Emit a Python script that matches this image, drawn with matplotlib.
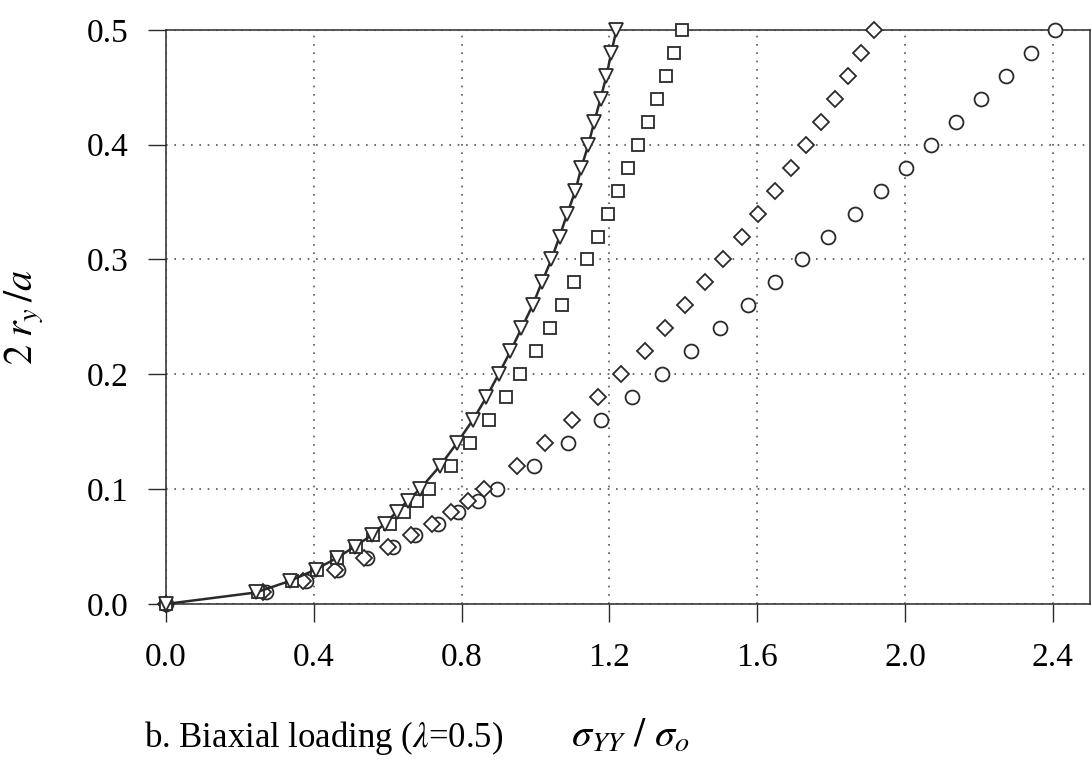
import numpy as np
import matplotlib
matplotlib.use("Agg")
from matplotlib import pyplot as plt

plt.rcParams['font.family'] = ['Liberation Serif', 'DejaVu Serif']
plt.rcParams['mathtext.fontset'] = 'stix'

# plastic zone size 2 r_y / a (same levels for every curve)
ry = [0.0, 0.01, 0.02, 0.03, 0.04, 0.05, 0.06, 0.07, 0.08, 0.09, 0.10,
      0.12, 0.14, 0.16, 0.18, 0.20, 0.22, 0.24, 0.26, 0.28, 0.30,
      0.32, 0.34, 0.36, 0.38, 0.40, 0.42, 0.44, 0.46, 0.48, 0.50]

# applied stress sigma_YY / sigma_o for each model
s_tri = [0.0, 0.243, 0.335, 0.405, 0.462, 0.511, 0.557, 0.592, 0.624, 0.654, 0.687,
         0.741, 0.787, 0.830, 0.867, 0.900, 0.932, 0.962, 0.992, 1.017, 1.043,
         1.065, 1.086, 1.108, 1.124, 1.143, 1.159, 1.176, 1.192, 1.205, 1.219]
s_sq = [0.0, 0.248, 0.340, 0.410, 0.463, 0.514, 0.560, 0.605, 0.643, 0.678, 0.711,
        0.770, 0.822, 0.873, 0.919, 0.959, 1.000, 1.038, 1.073, 1.105, 1.138,
        1.168, 1.197, 1.224, 1.251, 1.278, 1.305, 1.330, 1.354, 1.376, 1.397]
s_dia = [0.0, 0.262, 0.370, 0.458, 0.535, 0.602, 0.662, 0.720, 0.772, 0.818, 0.860,
         0.949, 1.027, 1.100, 1.170, 1.232, 1.295, 1.351, 1.405, 1.459, 1.508,
         1.559, 1.603, 1.649, 1.692, 1.732, 1.773, 1.811, 1.846, 1.881, 1.916]
s_circ = [0.0, 0.270, 0.380, 0.466, 0.545, 0.613, 0.675, 0.735, 0.789, 0.843, 0.897,
          0.995, 1.089, 1.178, 1.262, 1.343, 1.422, 1.500, 1.576, 1.649, 1.722,
          1.792, 1.865, 1.935, 2.003, 2.070, 2.138, 2.205, 2.273, 2.341, 2.405]

xticks = [0.0, 0.4, 0.8, 1.2, 1.6, 2.0, 2.4]
yticks = [0.0, 0.1, 0.2, 0.3, 0.4, 0.5]

ink = '#2a2a2a'

fig = plt.figure(figsize=(10.92, 7.65), dpi=100)
ax = fig.add_axes([0.152, 0.2105, 0.846, 0.7505])

mk = dict(mfc='white', mec=ink, mew=1.3, clip_on=False)
ax.plot(s_circ, ry, 'o', ms=10, ls='none', zorder=3, **mk)
ax.plot(s_dia, ry, 'D', ms=8, ls='none', zorder=3, **mk)
ax.plot(s_sq, ry, 's', ms=9, ls='none', zorder=3, **mk)
ax.plot(s_tri, ry, 'v-', ms=10, color=ink, lw=1.8, zorder=4, **mk)

ax.set_xlim(0, 2.5)
ax.set_ylim(0, 0.5)
ax.set_xticks(xticks)
ax.set_yticks(yticks)
ax.set_xticklabels(['%.1f' % v for v in xticks])
ax.set_yticklabels(['%.1f' % v for v in yticks])
ax.tick_params(direction='out', length=13, width=1.0, color=ink,
               labelsize=24, labelcolor='black')
ax.tick_params(axis='x', pad=15)
ax.tick_params(axis='y', pad=14)

ax.grid(True, ls=(0, (1, 4)), lw=1.2, color='#555555')
for sp in ax.spines.values():
    sp.set_color(ink)
    sp.set_linewidth(1.1)

# axis titles and panel caption
fig.text(0.022, 0.585, r'$2\;r_y\,/a$', fontsize=29, rotation=90,
         ha='center', va='center', color='black')
fig.text(0.132, 0.0235, r'b. Biaxial loading ($\lambda$=0.5)', fontsize=25,
         va='baseline', color='black')
fig.text(0.523, 0.0235, r'$\sigma_{YY}\ /\ \sigma_o$', fontsize=29,
         va='baseline', color='black')

fig.savefig('out.png', dpi=100)
